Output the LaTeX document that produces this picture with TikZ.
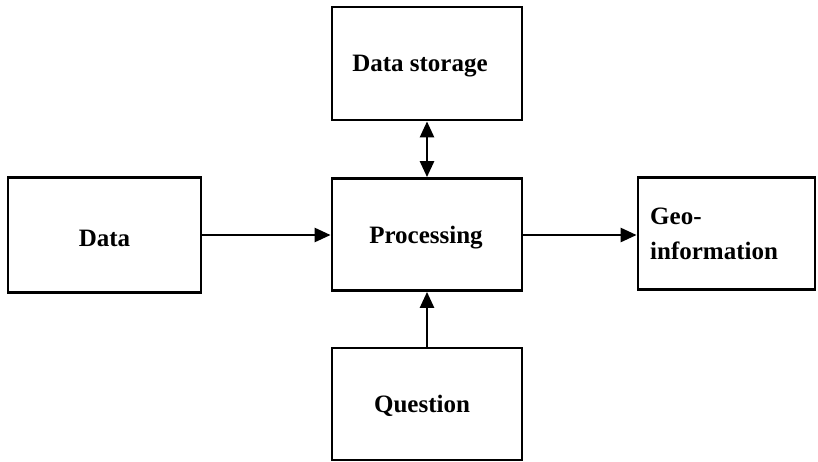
\documentclass[tikz,border=0pt]{standalone}
\usepackage{fontspec}
\setmainfont{Liberation Serif}
\usetikzlibrary{arrows.meta}
\begin{document}
\begin{tikzpicture}[x=1pt,y=-1pt,
  label font/.style={font=\fontsize{25}{35}\selectfont\bfseries},
  block/.style={draw, line width=2.8pt, inner sep=0pt, label font},
  link/.style={line width=2.6pt, -{Triangle[length=16pt,width=14pt]}},
  biglink/.style={line width=2.6pt, {Triangle[length=16pt,width=14pt]}-{Triangle[length=16pt,width=14pt]}}]
\useasboundingbox (0,0) rectangle (818,461);
% boxes given by corners
\node[block, minimum width=190pt, minimum height=113pt] (store) at (427,63.5) {};
\node[label font, inner sep=0pt] (storetext) at (420,66) {Data storage};
\node[block, minimum width=193pt, minimum height=115pt] (data) at (104.5,235) {};
\node[label font, inner sep=0pt] (datatext) at (104.5,238) {Data};
\node[block, minimum width=190pt, minimum height=112pt] (proc) at (427,234.5) {};
\node[label font, inner sep=0pt] (proctext) at (426,238) {Processing};
\node[block, minimum width=177pt, minimum height=112pt] (geo) at (726.5,233.5) {};
\node[label font, align=left, anchor=west, inner sep=0pt] (geotext) at (650,234) {Geo-\\information};
\node[block, minimum width=190pt, minimum height=112pt] (quest) at (427,404) {};
\node[label font, inner sep=0pt] (questtext) at (422,406) {Question};
% connectors
\draw[link] (data.east |- 0,235) -- (proc.west |- 0,235);
\draw[link] (proc.east |- 0,235) -- (geo.west |- 0,235);
\draw[biglink] (store.south) -- (proc.north);
\draw[link] (quest.north) -- (proc.south);
\end{tikzpicture}
\end{document}
